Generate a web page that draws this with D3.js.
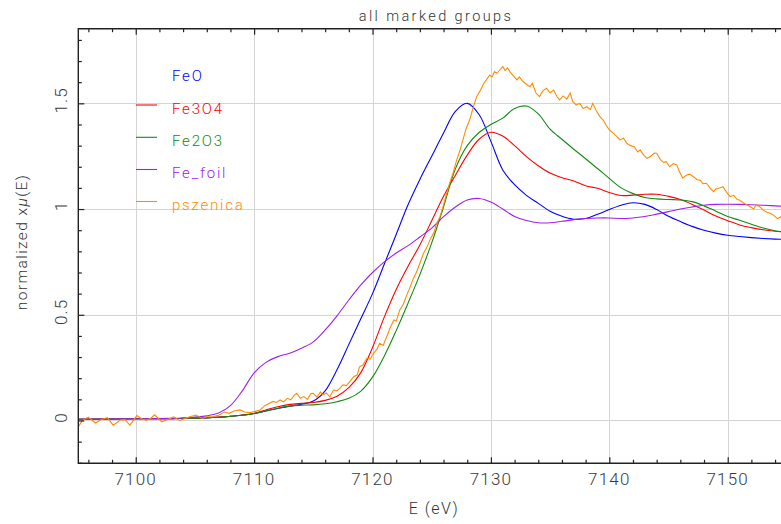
<!DOCTYPE html>
<html>
<head>
<meta charset="utf-8">
<script src="https://cdn.jsdelivr.net/npm/d3@7"></script>
<style>
  html, body { margin: 0; padding: 0; background: #fff; }
  svg { display: block; }
  text { font-family: Roboto, "DejaVu Sans", sans-serif; font-weight: 300; }
</style>
</head>
<body>
<svg id="chart" width="781" height="524"></svg>
<script>
// ---------------- DATA ----------------
const title = "all marked groups";
const xTicks = [7100, 7110, 7120, 7130, 7140, 7150];
const yTicks = [0, 0.5, 1, 1.5];
const yTickLabels = ["0", "0.5", "1", "1.5"];
const seriesNames = ["FeO", "Fe3O4", "Fe2O3", "Fe_foil", "pszenica"];
const seriesColors = ["#0000ff", "#ff0000", "#128a12", "#a020f0", "#ff8c00"];

// common energy grid for the reference spectra (eV)
const energy = [7095, 7100, 7103, 7104, 7105, 7106, 7107, 7108, 7109, 7110, 7111, 7112, 7113, 7114, 7115,
  7116, 7117, 7118, 7119, 7120, 7121, 7122, 7123, 7124, 7125, 7126, 7127, 7128, 7129, 7130,
  7131, 7132, 7133, 7134, 7135, 7136, 7137, 7138, 7139, 7140, 7141, 7142, 7143, 7144, 7145,
  7146, 7147, 7148, 7149, 7150, 7151, 7152, 7153, 7154, 7155];

const FeO = [0.005, 0.008, 0.009, 0.010, 0.011, 0.012, 0.015, 0.020, 0.025, 0.033, 0.045, 0.057, 0.068, 0.077, 0.092,
  0.140, 0.240, 0.360, 0.480, 0.600, 0.740, 0.880, 1.020, 1.140, 1.250, 1.360, 1.462, 1.500, 1.447, 1.320,
  1.185, 1.115, 1.065, 1.027, 0.990, 0.966, 0.952, 0.955, 0.975, 0.998, 1.018, 1.030, 1.022, 0.998, 0.966,
  0.941, 0.918, 0.900, 0.886, 0.876, 0.870, 0.865, 0.861, 0.858, 0.856];

const Fe3O4 = [0.005, 0.008, 0.009, 0.010, 0.011, 0.013, 0.016, 0.020, 0.026, 0.033, 0.050, 0.065, 0.076, 0.081, 0.085,
  0.095, 0.115, 0.155, 0.225, 0.345, 0.490, 0.620, 0.730, 0.830, 0.945, 1.060, 1.160, 1.255, 1.330, 1.363,
  1.345, 1.300, 1.248, 1.205, 1.170, 1.148, 1.133, 1.110, 1.098, 1.078, 1.064, 1.066, 1.070, 1.070, 1.060,
  1.045, 1.022, 0.995, 0.967, 0.945, 0.925, 0.912, 0.902, 0.895, 0.890];

const Fe2O3 = [0.005, 0.008, 0.009, 0.010, 0.011, 0.012, 0.015, 0.020, 0.025, 0.033, 0.045, 0.058, 0.068, 0.072, 0.074,
  0.079, 0.089, 0.105, 0.138, 0.205, 0.305, 0.425, 0.555, 0.690, 0.840, 1.010, 1.190, 1.300, 1.362, 1.400,
  1.430, 1.476, 1.487, 1.450, 1.378, 1.330, 1.283, 1.238, 1.192, 1.145, 1.100, 1.073, 1.055, 1.048, 1.045,
  1.043, 1.035, 1.015, 0.990, 0.965, 0.947, 0.928, 0.910, 0.897, 0.890];

const Fe_foil = [0.005, 0.008, 0.010, 0.012, 0.016, 0.022, 0.035, 0.070, 0.140, 0.225, 0.275, 0.302, 0.318, 0.342, 0.372,
  0.428, 0.495, 0.570, 0.640, 0.700, 0.750, 0.792, 0.827, 0.868, 0.910, 0.964, 1.010, 1.043, 1.050, 1.033,
  1.000, 0.965, 0.946, 0.935, 0.935, 0.942, 0.950, 0.955, 0.958, 0.958, 0.955, 0.958, 0.965, 0.976, 0.988,
  1.000, 1.010, 1.018, 1.022, 1.023, 1.022, 1.020, 1.018, 1.015, 1.012];

// pszenica sample (noisy measured spectrum)
const pszenicaE = [7095.15, 7095.5, 7096.0, 7096.6, 7097.1, 7097.6, 7098.1, 7098.7, 7099.1, 7099.5, 7100.1, 7100.5,
  7100.9, 7101.3, 7101.6, 7102.2, 7102.7, 7103.2, 7103.7, 7104.2, 7104.7, 7105.1, 7105.6, 7106.0, 7106.5,
  7107.0, 7107.5, 7107.9, 7108.3, 7108.8, 7109.2, 7109.6, 7110.0, 7110.5, 7110.9, 7111.3, 7111.6, 7111.9,
  7112.2, 7112.5, 7112.8, 7113.1, 7113.4, 7113.6, 7113.9, 7114.2, 7114.5, 7114.8, 7115.0, 7115.3, 7115.6,
  7115.8, 7116.1, 7116.4, 7116.7, 7117.0, 7117.3, 7117.5, 7117.8, 7118.1, 7118.4, 7118.7, 7118.9, 7119.2,
  7119.5, 7119.8, 7120.1, 7120.4, 7120.6, 7120.9, 7121.2, 7121.5, 7121.8, 7122.0, 7122.3, 7122.6, 7122.9,
  7123.1, 7123.4, 7123.7, 7124.0, 7124.3, 7124.6, 7124.9, 7125.2, 7125.4, 7125.7, 7126.0, 7126.2, 7126.5,
  7126.8, 7127.1, 7127.4, 7127.6, 7127.9, 7128.2, 7128.5, 7128.8, 7129.1, 7129.4, 7129.6, 7129.9, 7130.1,
  7130.3, 7130.5, 7130.8, 7131.0, 7131.2, 7131.4, 7131.6, 7131.9, 7132.2, 7132.4, 7132.7, 7133.0, 7133.3,
  7133.5, 7133.8, 7134.1, 7134.4, 7134.7, 7135.0, 7135.3, 7135.6, 7135.8, 7136.1, 7136.4, 7136.7, 7136.9,
  7137.2, 7137.5, 7137.8, 7138.1, 7138.4, 7138.6, 7138.9, 7139.2, 7139.5, 7139.7, 7140.0, 7140.3, 7140.6,
  7140.9, 7141.2, 7141.5, 7141.8, 7142.1, 7142.4, 7142.6, 7142.9, 7143.2, 7143.5, 7143.8, 7144.0, 7144.3,
  7144.6, 7144.8, 7145.1, 7145.4, 7145.7, 7145.9, 7146.2, 7146.5, 7146.8, 7147.1, 7147.4, 7147.7, 7147.9,
  7148.2, 7148.5, 7148.8, 7149.0, 7149.3, 7149.6, 7149.9, 7150.2, 7150.5, 7150.8, 7151.0, 7151.3, 7151.6,
  7151.9, 7152.2, 7152.4, 7152.7, 7153.0, 7153.3, 7153.6, 7153.9, 7154.2, 7154.5, 7155.0];
const pszenica = [-0.030, 0.000, 0.016, -0.012, 0.005, 0.013, -0.022, 0.002, 0.004, -0.022, 0.023, 0.008,
  0.000, 0.012, 0.027, -0.006, 0.005, 0.017, 0.000, 0.010, 0.020, 0.026, 0.010, 0.018, 0.018,
  0.025, 0.040, 0.034, 0.045, 0.050, 0.040, 0.037, 0.042, 0.050, 0.070, 0.081, 0.090, 0.085,
  0.097, 0.088, 0.105, 0.098, 0.120, 0.129, 0.105, 0.113, 0.100, 0.128, 0.129, 0.110, 0.135,
  0.121, 0.130, 0.112, 0.144, 0.140, 0.155, 0.168, 0.165, 0.185, 0.207, 0.215, 0.254, 0.262,
  0.294, 0.290, 0.318, 0.340, 0.365, 0.355, 0.396, 0.440, 0.475, 0.470, 0.523, 0.550, 0.594,
  0.620, 0.665, 0.700, 0.744, 0.790, 0.820, 0.860, 0.890, 0.930, 0.964, 1.020, 1.060, 1.120,
  1.170, 1.230, 1.280, 1.320, 1.380, 1.421, 1.480, 1.532, 1.560, 1.595, 1.610, 1.634, 1.625,
  1.650, 1.642, 1.660, 1.674, 1.655, 1.668, 1.650, 1.630, 1.611, 1.625, 1.603, 1.590, 1.579,
  1.595, 1.550, 1.532, 1.560, 1.571, 1.550, 1.563, 1.530, 1.516, 1.535, 1.520, 1.548, 1.510,
  1.492, 1.500, 1.475, 1.484, 1.470, 1.500, 1.465, 1.437, 1.420, 1.400, 1.374, 1.360, 1.345,
  1.327, 1.335, 1.310, 1.300, 1.295, 1.270, 1.280, 1.255, 1.240, 1.250, 1.265, 1.264, 1.235,
  1.220, 1.225, 1.200, 1.215, 1.209, 1.180, 1.146, 1.160, 1.165, 1.153, 1.140, 1.135, 1.120,
  1.122, 1.100, 1.082, 1.095, 1.100, 1.106, 1.080, 1.059, 1.065, 1.045, 1.043, 1.030, 1.020,
  1.011, 1.000, 1.020, 1.011, 0.995, 0.985, 0.980, 0.970, 0.955, 0.964, 0.950];

// ---------------- CHART ----------------
const svg = d3.select("#chart");
const L = 78.3, T = 28.7, B = 463.3, R = 786.9;
const x = d3.scaleLinear().domain([7095.15, 7155]).range([L, R]);
const y = d3.scaleLinear().domain([-0.2025, 1.853]).range([B, T]);

svg.append("defs").append("clipPath").attr("id", "clip")
  .append("rect").attr("x", L).attr("y", T).attr("width", R - L).attr("height", B - T);

// grid
const grid = svg.append("g").attr("stroke", "#d4d4d4").attr("stroke-width", 1);
grid.selectAll(".gx").data(xTicks).join("line")
  .attr("x1", d => Math.round(x(d)) + 0.5).attr("x2", d => Math.round(x(d)) + 0.5)
  .attr("y1", T).attr("y2", B);
grid.selectAll(".gy").data(yTicks).join("line")
  .attr("y1", d => Math.round(y(d)) + 0.5).attr("y2", d => Math.round(y(d)) + 0.5)
  .attr("x1", L).attr("x2", R);

// curves
const refSeries = [FeO, Fe3O4, Fe2O3, Fe_foil];
const smooth = d3.line().x(d => x(d[0])).y(d => y(d[1])).curve(d3.curveCatmullRom.alpha(0.5));
const raw = d3.line().x(d => x(d[0])).y(d => y(d[1]));
const curves = svg.append("g").attr("clip-path", "url(#clip)").attr("fill", "none").attr("stroke-width", 1.1);
refSeries.forEach((vals, i) => {
  curves.append("path").datum(energy.map((e, j) => [e, vals[j]]))
    .attr("stroke", seriesColors[i]).attr("d", smooth);
});
curves.append("path").datum(pszenicaE.map((e, j) => [e, pszenica[j]]))
  .attr("stroke", seriesColors[4]).attr("d", raw);

// axes (ticks pointing inward)
const minorX = d3.range(7096, 7156, 2).filter(v => v % 10 !== 0);
const minorY = d3.range(-2, 19).map(v => v / 10).filter(v => Math.abs(v * 10) % 5 !== 0);
const axisCol = "#222";
function styleAxis(g) {
  g.select(".domain").remove();
  g.selectAll("line").attr("stroke", axisCol).attr("stroke-width", 1.2);
}
svg.append("g").attr("transform", `translate(0,${B})`)
  .call(d3.axisBottom(x).tickValues(xTicks).tickSizeInner(-6).tickSizeOuter(0).tickFormat("")).call(styleAxis);
svg.append("g").attr("transform", `translate(0,${B})`)
  .call(d3.axisBottom(x).tickValues(minorX).tickSizeInner(-3.5).tickSizeOuter(0).tickFormat("")).call(styleAxis);
svg.append("g").attr("transform", `translate(0,${T})`)
  .call(d3.axisTop(x).tickValues(xTicks).tickSizeInner(-6).tickSizeOuter(0).tickFormat("")).call(styleAxis);
svg.append("g").attr("transform", `translate(0,${T})`)
  .call(d3.axisTop(x).tickValues(minorX).tickSizeInner(-3.5).tickSizeOuter(0).tickFormat("")).call(styleAxis);
svg.append("g").attr("transform", `translate(${L},0)`)
  .call(d3.axisLeft(y).tickValues(yTicks).tickSizeInner(-6).tickSizeOuter(0).tickFormat("")).call(styleAxis);
svg.append("g").attr("transform", `translate(${L},0)`)
  .call(d3.axisLeft(y).tickValues(minorY).tickSizeInner(-3.5).tickSizeOuter(0).tickFormat("")).call(styleAxis);

// frame
const frame = svg.append("g").attr("stroke", axisCol).attr("stroke-width", 1.4).attr("fill", "none");
frame.append("path").attr("d", `M${R},${T}H${L}V${B}H${R}`);

// tick labels
svg.append("g").selectAll("text").data(xTicks).join("text")
  .attr("x", d => x(d)).attr("y", 485)
  .attr("text-anchor", "middle").attr("font-size", 17).attr("letter-spacing", 1.2)
  .attr("fill", "#3a3a3a").text(d => d);
svg.append("g").selectAll("text").data(yTicks).join("text")
  .attr("transform", (d) => `translate(67,${y(d) - 3}) rotate(-90)`)
  .attr("text-anchor", "middle").attr("font-size", 17).attr("letter-spacing", 1.2)
  .attr("fill", "#3a3a3a").text((d, i) => yTickLabels[i]);

// titles
svg.append("text").attr("x", 436).attr("y", 21).attr("text-anchor", "middle")
  .attr("font-size", 14.5).attr("letter-spacing", 2.4).attr("fill", "#333").text(title);
svg.append("text").attr("x", 434).attr("y", 514).attr("text-anchor", "middle")
  .attr("font-size", 16).attr("letter-spacing", 1.5).attr("fill", "#333").text("E (eV)");
const yl = svg.append("text").attr("transform", "translate(27,242) rotate(-90)").attr("text-anchor", "middle")
  .attr("font-size", 15.5).attr("letter-spacing", 1.4).attr("fill", "#333");
yl.append("tspan").text("normalized x");
yl.append("tspan").attr("font-style", "italic").text("μ");
yl.append("tspan").text("(E)");

// legend
const legY = [80.7, 113.5, 145.8, 178, 210];
const leg = svg.append("g");
seriesNames.forEach((n, i) => {
  if (i > 0) {
    leg.append("line").attr("x1", 136).attr("x2", 157)
      .attr("y1", legY[i] - 8.5).attr("y2", legY[i] - 8.5)
      .attr("stroke", seriesColors[i]).attr("stroke-width", 1.1);
  }
  leg.append("text").attr("x", 172).attr("y", legY[i])
    .attr("font-size", 15).attr("letter-spacing", 1.8)
    .attr("fill", seriesColors[i]).text(n);
});
</script>
</body>
</html>
